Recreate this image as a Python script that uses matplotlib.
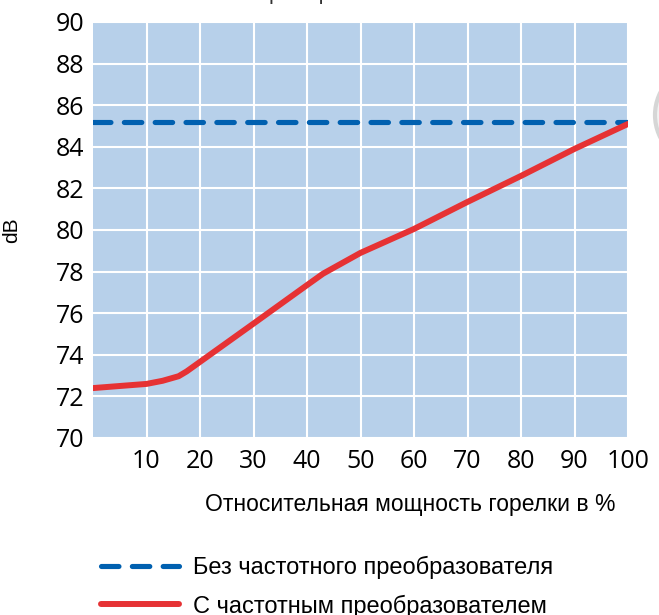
import matplotlib
matplotlib.use("Agg")
from matplotlib import pyplot as plt
from matplotlib.patches import Ellipse

# burner load, % / noise level, dB
x_freq = [0, 10, 13, 16, 17.5, 30, 40, 43, 50, 60, 70, 80, 90, 100]
db_freq = [72.4, 72.6, 72.75, 72.97, 73.2, 75.5, 77.35, 77.9, 78.9, 80.05, 81.35, 82.6, 83.9, 85.1]
x_nofreq = [0, 100]
db_nofreq = [85.2, 85.2]

xticks = [10, 20, 30, 40, 50, 60, 70, 80, 90, 100]
yticks = [70, 72, 74, 76, 78, 80, 82, 84, 86, 88, 90]

lbl_nofreq = "Без частотного преобразователя"
lbl_freq = "С частотным преобразователем"

plt.rcParams['font.family'] = ['Liberation Sans', 'DejaVu Sans']

fig = plt.figure(figsize=(6.59, 6.15), dpi=100)
ax = fig.add_axes([93/659, 177/615, 535/659, 416/615])
ax.set_facecolor("#b7d0ea")

ax.plot(x_nofreq, db_nofreq, color="#0060b0", lw=3.7, dashes=(3.4, 2.6),
        dash_capstyle="round", label=lbl_nofreq, zorder=3)
ax.plot(x_freq, db_freq, color="#e63234", lw=4.3, solid_capstyle="round",
        solid_joinstyle="round", label=lbl_freq, zorder=4)

ax.set_xlim(0, 100)
ax.set_ylim(70, 90)
ax.set_xticks(xticks)
ax.set_yticks(yticks)
ax.grid(color="white", lw=1.5)
ax.set_axisbelow(True)
for s in ax.spines.values():
    s.set_visible(False)
ax.tick_params(length=0, pad=8, labelsize=18)
ax.tick_params(axis="y", pad=6)
for t in ax.get_xticklabels() + ax.get_yticklabels():
    t.set_family("Open Sans")

ax.set_ylabel("dB", fontsize=15)
ax.yaxis.set_label_coords(-0.135, 0.5)
fig.text(410/659, 1 - 505/615, "Относительная мощность горелки в %",
         fontsize=16.5, ha="center", va="center")

# partly cut-off title and page decoration
fig.text(347/659, 1 + 1/615, "преобразователя", fontsize=16,
         ha="center", va="baseline", color="#333333")
fig.add_artist(Ellipse((705/659, 1 - 115/615), 100/659, 100/615,
                       transform=fig.transFigure, facecolor="#f2f2f2",
                       edgecolor="#d6d6d6", lw=3))

fig.legend(loc="upper left", bbox_to_anchor=(101/659, 1 - 556/615),
           frameon=False, fontsize=17, handlelength=3.3,
           handletextpad=0.6, labelspacing=0.65, borderaxespad=0,
           borderpad=0)

fig.savefig("out.png", dpi=100)
